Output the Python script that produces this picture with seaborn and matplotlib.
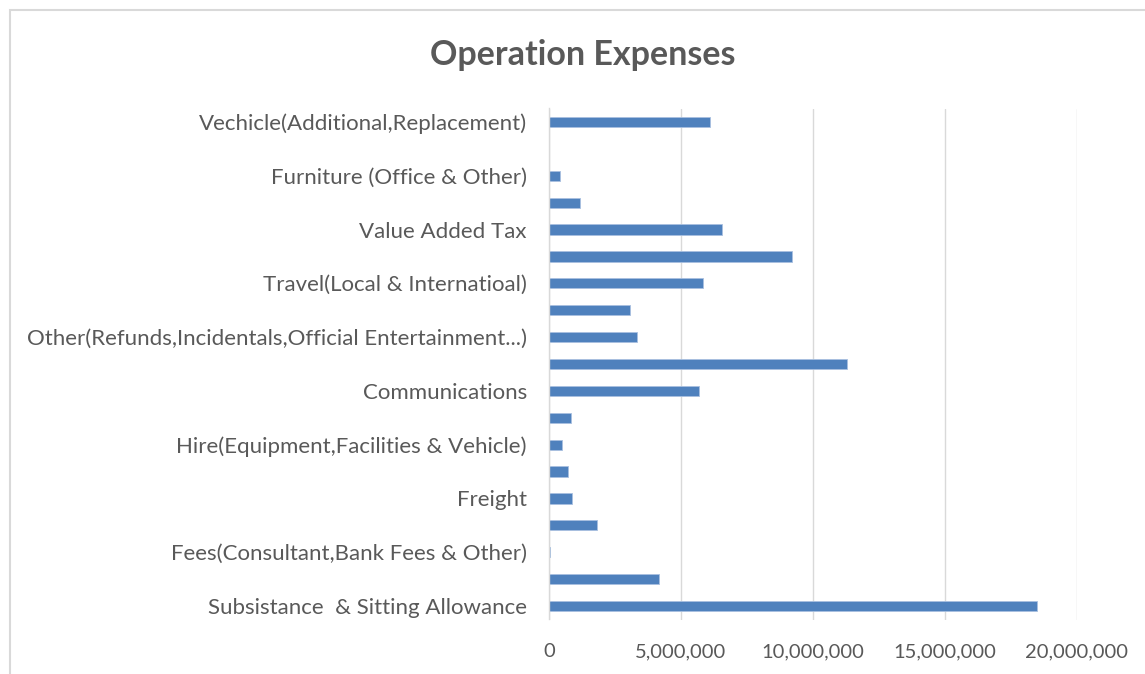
import matplotlib
matplotlib.use("Agg")
import matplotlib.pyplot as plt
import seaborn as sns
import pandas as pd
from matplotlib.patches import Rectangle
from matplotlib.ticker import FuncFormatter, MultipleLocator

# categories from bottom to top (unlabelled ones are hidden in the original axis)
categories = [
    "Subsistance  & Sitting Allowance",
    "Category 2",
    "Fees(Consultant,Bank Fees & Other)",
    "Category 4",
    "Freight",
    "Category 6",
    "Hire(Equipment,Facilities & Vehicle)",
    "Category 8",
    "Communications",
    "Category 10",
    "Other(Refunds,Incidentals,Official Entertainment...)",
    "Category 12",
    "Travel(Local & Internatioal)",
    "Category 14",
    "Value Added Tax",
    "Category 16",
    "Furniture (Office & Other)",
    "Category 18",
    "Vechicle(Additional,Replacement)",
]
values = [
    18470000, 4180000, 50000, 1800000, 870000, 720000, 480000, 830000,
    5690000, 11280000, 3350000, 3070000, 5830000, 9190000, 6570000,
    1170000, 430000, 0, 6080000,
]
shown_labels = [True, False] * 9 + [True]

sns.set_theme(style="white")
plt.rcParams["font.family"] = ["Lato", "DejaVu Sans"]

df = pd.DataFrame({"category": categories[::-1], "value": values[::-1]})

fig = plt.figure(figsize=(11.45, 6.74), dpi=100)
ax = fig.add_axes([549 / 1145, 1 - 619.5 / 674, (1077 - 549) / 1145, (619.5 - 108.5) / 674])

sns.barplot(data=df, y="category", x="value", orient="h", color="#4F81BD",
            width=0.38, edgecolor="#A9C0E0", linewidth=0.6, saturation=1, ax=ax)

ax.set_xlim(0, 20000000)
ax.set_ylim(len(categories) - 0.5, -0.5)
ax.xaxis.set_major_locator(MultipleLocator(5000000))
ax.xaxis.set_major_formatter(FuncFormatter(lambda v, p: f"{int(v):,}"))
ax.grid(axis="x", color="#D9D9D9", linewidth=1)
ax.set_axisbelow(True)

rev_cats = categories[::-1]
rev_shown = shown_labels[::-1]
ticks = [i for i, s in enumerate(rev_shown) if s]
ax.set_yticks(ticks)
ax.set_yticklabels([rev_cats[i] for i in ticks])

for s in ["top", "right", "bottom"]:
    ax.spines[s].set_visible(False)
ax.spines["left"].set_color("#D9D9D9")
ax.spines["left"].set_linewidth(1)

ax.tick_params(axis="y", length=0, pad=16, labelsize=16, labelcolor="#595959")
ax.tick_params(axis="x", length=0, pad=17, labelsize=14.5, labelcolor="#595959")
ax.set_xlabel("")
ax.set_ylabel("")

fig.text(583 / 1145, 1 - 55 / 674, "Operation Expenses", ha="center", va="center",
         fontsize=24.5, fontweight="bold", color="#595959")

fig.patches.append(Rectangle((10 / 1145, -0.05), 1.2, 1 - 10 / 674 + 0.05,
                             transform=fig.transFigure, fill=False,
                             edgecolor="#D9D9D9", linewidth=1.5))

fig.savefig("out.png", dpi=100, facecolor="white")
